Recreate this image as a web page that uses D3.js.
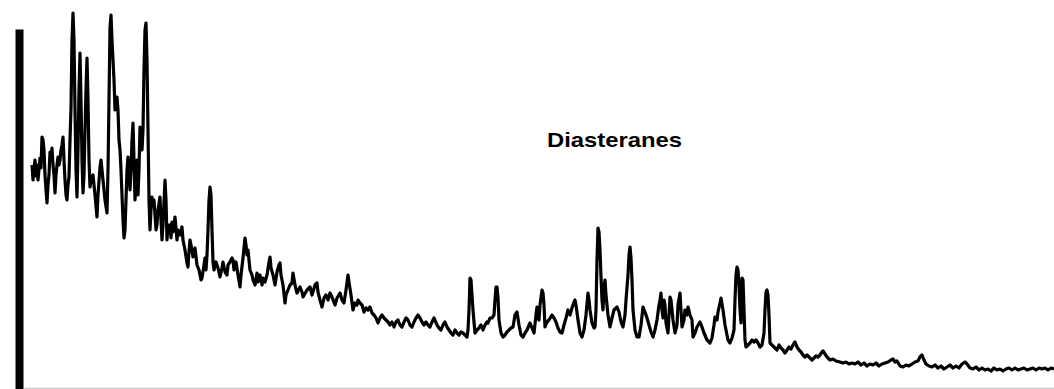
<!DOCTYPE html>
<html>
<head>
<meta charset="utf-8">
<script src="https://cdn.jsdelivr.net/npm/d3@7/dist/d3.min.js"></script>
<style>
  html, body { margin: 0; padding: 0; background: #fff; }
  svg { display: block; }
</style>
</head>
<body>
<div id="container"></div>
<script>
var W = 1054, H = 389;

// [scan, abundance]
var trace = [
  [8,222],[9,207],[10,217],[11,227],[12,211],[13,222],[14,207],[16,229],[17,219],[18,250],
  [19,247],[20,237],[21,212],[22,197],[23,184],[24,202],[25,212],[26,235],[27,227],[28,239],
  [29,222],[30,212],[31,194],[32,212],[33,222],[34,230],[35,222],[36,227],[37,237],[38,242],
  [39,250],[40,227],[41,207],[42,192],[43,187],[44,202],[45,210],[46,247],[47,279],[48,347],
  [49,374],[50,347],[51,277],[52,217],[53,190],[54,237],[55,297],[56,334],[57,287],[58,227],
  [59,194],[60,212],[61,257],[62,297],[63,329],[64,287],[65,227],[66,200],[67,207],[69,212],
  [71,192],[73,170],[74,192],[76,220],[77,227],[79,207],[81,187],[83,174],[84,217],[85,287],
  [86,359],[87,372],[88,347],[89,327],[90,307],[91,277],[92,282],[93,290],[94,277],[95,247],
  [96,237],[97,217],[98,192],[99,167],[100,149],[101,157],[102,187],[103,217],[104,230],[105,212],
  [106,197],[107,217],[108,247],[109,264],[110,227],[111,187],[112,207],[113,227],[114,192],[115,217],
  [116,260],[117,247],[118,237],[119,257],[120,317],[121,357],[122,364],[123,327],[124,257],[125,187],
  [126,157],[127,177],[128,190],[129,182],[130,187],[131,172],[132,157],[133,162],[134,177],[136,190],
  [137,167],[138,147],[139,162],[141,207],[142,187],[143,147],[144,162],[146,162],[147,149],[148,165],
  [149,155],[151,170],[152,159],[153,147],[154,157],[156,152],[158,160],[159,147],[161,137],[163,124],
  [164,120],[165,135],[166,147],[168,137],[169,130],[171,139],[173,122],[175,117],[177,107],[178,109],
  [180,122],[181,129],[182,117],[183,132],[184,157],[185,187],[186,200],[187,192],[188,157],[189,125],
  [190,117],[192,125],[194,119],[196,110],[198,119],[199,125],[201,115],[203,112],[204,122],[206,125],
  [208,129],[209,127],[210,117],[212,125],[214,112],[216,100],[217,112],[219,129],[221,149],[222,142],
  [223,132],[224,137],[226,117],[228,112],[229,107],[231,102],[233,114],[234,105],[236,112],[238,102],
  [239,109],[241,105],[243,112],[245,125],[246,130],[247,119],[249,112],[251,102],[253,115],[255,122],
  [256,124],[257,112],[259,102],[261,84],[262,92],[264,97],[266,102],[268,104],[269,114],[271,102],
  [273,94],[276,100],[278,95],[279,90],[283,97],[286,100],[288,92],[291,102],[293,104],[294,95],
  [296,87],[298,80],[300,89],[302,92],[304,87],[306,94],[308,90],[311,82],[313,89],[316,94],
  [318,87],[320,84],[322,97],[324,112],[325,105],[327,92],[329,77],[331,84],[333,82],[334,87],
  [336,84],[338,82],[340,75],[342,79],[344,77],[346,80],[348,74],[350,72],[352,69],[354,64],
  [356,69],[358,72],[360,69],[362,67],[364,65],[366,62],[368,65],[370,60],[372,65],[374,67],
  [376,62],[378,60],[380,65],[382,69],[384,67],[386,62],[388,60],[390,65],[392,69],[394,72],
  [396,69],[398,65],[400,62],[402,65],[404,62],[406,60],[408,65],[410,69],[413,62],[415,59],
  [417,57],[419,62],[421,65],[423,60],[425,57],[427,54],[429,52],[431,57],[433,54],[435,52],
  [437,55],[439,54],[441,52],[443,50],[444,57],[445,77],[446,109],[447,107],[448,92],[449,77],
  [450,65],[451,54],[453,57],[455,59],[457,62],[459,57],[461,62],[463,65],[464,64],[466,69],
  [468,69],[470,72],[471,87],[472,100],[473,100],[474,89],[475,67],[477,54],[479,50],[481,52],
  [483,55],[485,57],[487,59],[489,60],[491,72],[493,75],[495,62],[497,52],[499,50],[501,54],
  [503,57],[506,64],[508,59],[510,54],[512,72],[513,80],[514,69],[515,67],[516,82],[518,97],
  [519,94],[520,82],[521,60],[523,65],[525,67],[528,72],[530,69],[532,65],[534,59],[536,55],
  [538,54],[540,62],[542,69],[544,77],[546,72],[548,79],[550,85],[551,87],[552,82],[554,67],
  [556,54],[558,50],[560,57],[562,72],[564,94],[565,87],[566,77],[568,64],[570,59],[571,60],
  [572,77],[573,127],[574,159],[575,155],[576,137],[577,110],[578,87],[579,77],[580,99],[581,107],
  [582,92],[584,72],[586,60],[588,69],[590,77],[592,79],[593,80],[595,75],[597,65],[599,60],
  [601,72],[602,87],[604,112],[605,132],[606,140],[607,129],[608,107],[609,77],[611,57],[613,50],
  [615,50],[617,62],[619,80],[621,75],[623,69],[625,62],[627,55],[629,50],[631,57],[633,67],
  [635,82],[636,87],[637,94],[638,77],[639,69],[640,87],[641,82],[642,64],[644,54],[646,90],
  [647,87],[649,67],[651,54],[653,62],[654,82],[656,94],[657,77],[658,60],[660,67],[661,77],
  [663,72],[664,80],[666,72],[668,67],[669,50],[671,54],[673,60],[676,65],[678,60],[680,54],
  [683,47],[686,44],[688,49],[690,62],[691,70],[693,67],[694,75],[696,84],[697,89],[699,77],
  [701,62],[703,52],[704,47],[706,44],[708,49],[710,57],[711,87],[712,112],[713,120],[714,117],
  [715,102],[716,77],[717,64],[718,109],[719,107],[720,77],[721,47],[722,40],[724,42],[726,44],
  [728,47],[730,45],[732,47],[734,44],[736,40],[738,42],[740,54],[741,77],[742,95],[743,97],
  [744,92],[745,72],[746,44],[748,42],[751,39],[753,37],[755,42],[757,39],[759,37],[761,34],
  [763,37],[765,40],[767,38],[769,42],[771,45],[773,40],[775,37],[777,35],[779,32],[781,30],
  [783,32],[786,29],[788,27],[790,29],[792,31],[794,30],[796,32],[798,35],[799,36],[801,33],
  [803,30],[806,27],[809,28],[812,26],[816,25],[819,24],[822,25],[825,23],[828,24],[831,23],
  [834,25],[837,22],[840,24],[843,21],[846,23],[849,22],[852,24],[855,21],[858,23],[861,24],
  [864,25],[867,27],[869,28],[871,25],[873,26],[876,21],[879,20],[882,22],[885,21],[888,23],
  [891,25],[894,26],[896,30],[898,32],[900,27],[902,23],[905,21],[908,20],[911,22],[914,19],
  [917,21],[920,18],[923,20],[926,22],[929,19],[932,21],[935,19],[938,23],[941,25],[943,23],
  [946,19],[949,18],[952,20],[955,17],[958,19],[961,17],[964,18],[967,16],[970,19],[973,17],
  [976,18],[979,16],[982,18],[985,19],[988,17],[991,19],[994,17],[997,18],[1000,19],[1003,17],
  [1006,18],[1009,19],[1012,17],[1015,19],[1018,18],[1021,19],[1024,17],[1027,19],[1030,18]
];

var labels = ["Diasteranes"];
var labelPos = [[523, 240]]; // [scan, abundance] of the label baseline start

var svg = d3.select("#container").append("svg")
    .attr("width", W)
    .attr("height", H);

var x = d3.scaleLinear().domain([0, 1030]).range([24, 1054]);
var y = d3.scaleLinear().domain([0, 387]).range([387, 0]);

// baseline
svg.append("g")
    .attr("transform", "translate(0,388)")
    .call(d3.axisBottom(x).tickValues([]).tickSizeOuter(0))
    .call(function (g) {
        g.select(".domain").attr("stroke", "#c8c8c8").attr("stroke-width", 1.5);
    });

// thick left axis bar
svg.append("g")
    .attr("transform", "translate(19,0)")
    .call(d3.axisLeft(d3.scaleLinear().domain([0, 1]).range([389, 29])).tickValues([]).tickSizeOuter(0))
    .call(function (g) {
        g.select(".domain").attr("stroke", "#000").attr("stroke-width", 8);
    });

var line = d3.line()
    .x(function (d) { return x(d[0]); })
    .y(function (d) { return y(d[1]); });

svg.append("path")
    .datum(trace)
    .attr("d", line)
    .style("fill", "none")
    .style("stroke", "#000")
    .style("stroke-width", 3.2)
    .style("stroke-linejoin", "round");

svg.selectAll("text.lbl")
    .data(labels)
    .enter().append("text")
    .attr("class", "lbl")
    .attr("x", function (d, i) { return x(labelPos[i][0]); })
    .attr("y", function (d, i) { return y(labelPos[i][1]); })
    .attr("textLength", 135)
    .attr("lengthAdjust", "spacingAndGlyphs")
    .style("font-family", "'Liberation Sans', Arial, sans-serif")
    .style("font-weight", "bold")
    .style("font-size", "21px")
    .text(function (d) { return d; });
</script>
</body>
</html>
